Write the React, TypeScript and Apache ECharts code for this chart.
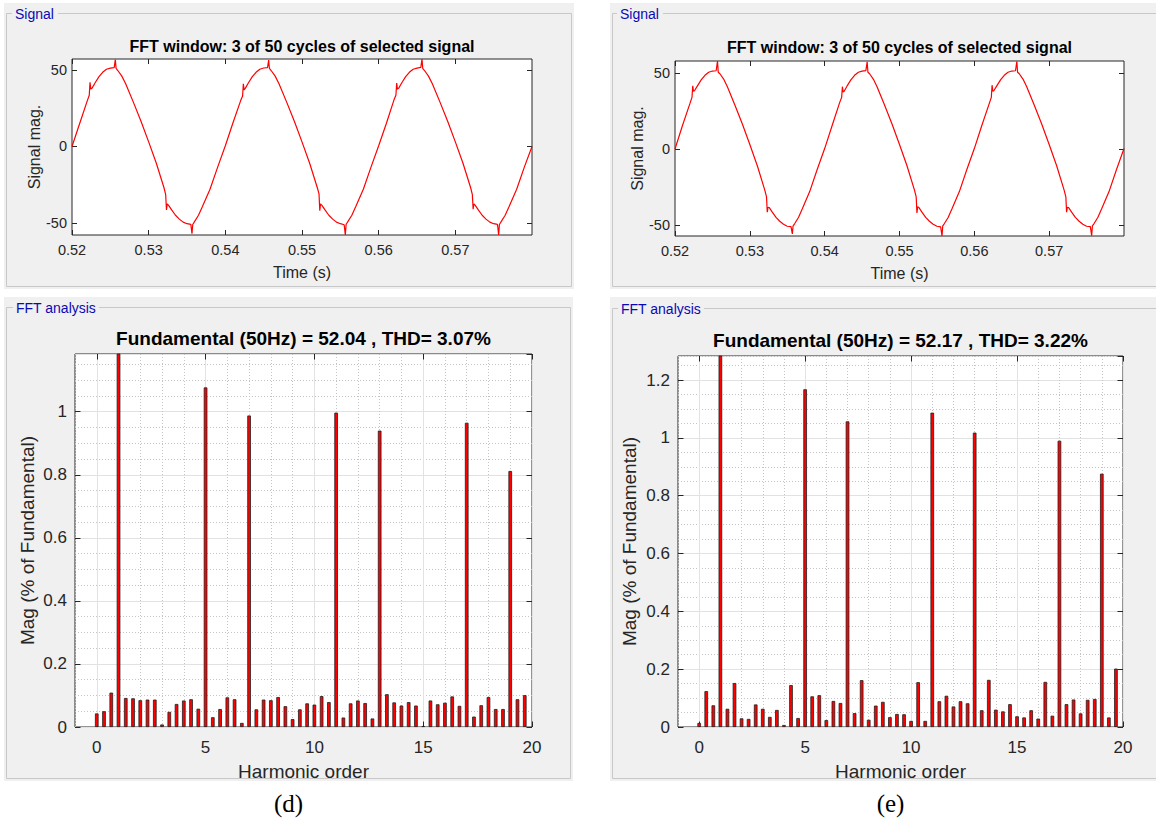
import React, { useEffect, useRef } from 'react';
import * as echarts from 'echarts';

// ---------------- DATA ----------------
const timeTicks = [0.52, 0.53, 0.54, 0.55, 0.56, 0.57];
const signalTicks = [-50, 0, 50];
const harmonicTicks = [0, 5, 10, 15, 20];

const titleSignal = 'FFT window: 3 of 50 cycles of selected signal';
const titleD = 'Fundamental (50Hz) = 52.04 , THD= 3.07%';
const titleE = 'Fundamental (50Hz) = 52.17 , THD= 3.22%';

const harmonicOrder = [
  0, 0.333, 0.667, 1, 1.333, 1.667, 2, 2.333, 2.667, 3, 3.333, 3.667,
  4, 4.333, 4.667, 5, 5.333, 5.667, 6, 6.333, 6.667, 7, 7.333, 7.667,
  8, 8.333, 8.667, 9, 9.333, 9.667, 10, 10.333, 10.667, 11, 11.333, 11.667,
  12, 12.333, 12.667, 13, 13.333, 13.667, 14, 14.333, 14.667, 15, 15.333, 15.667,
  16, 16.333, 16.667, 17, 17.333, 17.667, 18, 18.333, 18.667, 19, 19.333, 19.667,
];

const magD = [
  0.043, 0.050, 0.109, 100, 0.092, 0.091,
  0.085, 0.087, 0.087, 0.008, 0.048, 0.073,
  0.084, 0.088, 0.058, 1.077, 0.031, 0.057,
  0.094, 0.088, 0.013, 0.988, 0.056, 0.087,
  0.085, 0.095, 0.066, 0.025, 0.056, 0.075,
  0.071, 0.098, 0.079, 0.997, 0.030, 0.075,
  0.084, 0.076, 0.027, 0.940, 0.104, 0.078,
  0.068, 0.079, 0.068, 0.003, 0.084, 0.072,
  0.077, 0.097, 0.067, 0.965, 0.033, 0.069,
  0.095, 0.057, 0.057, 0.812, 0.088, 0.101,
];

const magE = [
  0.014, 0.124, 0.075, 100, 0.063, 0.152,
  0.030, 0.028, 0.078, 0.063, 0.035, 0.059,
  0.007, 0.145, 0.031, 1.168, 0.106, 0.110,
  0.024, 0.090, 0.083, 1.057, 0.048, 0.162,
  0.025, 0.074, 0.087, 0.034, 0.045, 0.044,
  0.021, 0.155, 0.021, 1.087, 0.089, 0.108,
  0.071, 0.089, 0.082, 1.018, 0.058, 0.163,
  0.060, 0.054, 0.079, 0.037, 0.033, 0.058,
  0.029, 0.156, 0.039, 0.990, 0.079, 0.095,
  0.047, 0.094, 0.097, 0.876, 0.033, 0.202,
];

const signalD = [
  [0.52, 0], [0.521, 15], [0.522, 30], [0.52225, 33.5], [0.52235, 42], [0.52245, 37.5], [0.5226, 38], [0.523, 41.5], [0.5235, 45.5], [0.524, 48.5], [0.5245, 50.5], [0.525, 51.2], [0.5255, 51.6], [0.52565, 56.8], [0.52575, 51], [0.526, 49.5], [0.5265, 46], [0.527, 41], [0.528, 29], [0.529, 16.5], [0.53, 3], [0.531, -11], [0.532, -27], [0.53222, -31.5], [0.53232, -41.5], [0.53242, -37.5], [0.5326, -38.5], [0.533, -41.5], [0.5335, -45], [0.534, -47.5], [0.5345, -49.5], [0.535, -50.5], [0.5355, -51], [0.53565, -57], [0.53575, -51], [0.536, -49], [0.5365, -45], [0.537, -39.5], [0.538, -28], [0.539, -13.5],
  [0.54, 0.5], [0.541, 15.5], [0.542, 30], [0.54225, 33], [0.54235, 41], [0.54245, 37], [0.5426, 38], [0.543, 41.5], [0.5435, 45.5], [0.544, 48.5], [0.5445, 50.5], [0.545, 51.3], [0.5455, 51.5], [0.54565, 56.5], [0.54575, 51], [0.546, 49.5], [0.5465, 46], [0.547, 41], [0.548, 29], [0.549, 16.5], [0.55, 3], [0.551, -11], [0.552, -27], [0.55222, -31], [0.55232, -42], [0.55242, -37.5], [0.5526, -38.5], [0.553, -41.5], [0.5535, -45], [0.554, -47.5], [0.5545, -49.5], [0.555, -50.5], [0.5555, -51.2], [0.55565, -57.9], [0.55575, -51], [0.556, -49], [0.5565, -45], [0.557, -39.5], [0.558, -28], [0.559, -13.5],
  [0.56, 0.5], [0.561, 15], [0.562, 30.5], [0.56225, 33.5], [0.56235, 41.5], [0.56245, 37.5], [0.5626, 38], [0.563, 41.5], [0.5635, 45.5], [0.564, 48.5], [0.5645, 50.5], [0.565, 51.2], [0.5655, 51.7], [0.56565, 57.2], [0.56575, 51], [0.566, 49.5], [0.5665, 46], [0.567, 41], [0.568, 29], [0.569, 16.5], [0.57, 3], [0.571, -11], [0.572, -27], [0.57222, -31.5], [0.57232, -41], [0.57242, -37.5], [0.5726, -38.5], [0.573, -41.5], [0.5735, -45], [0.574, -47.5], [0.5745, -49.5], [0.575, -50.5], [0.5755, -51], [0.57565, -57.9], [0.57575, -51], [0.576, -49], [0.5765, -45], [0.577, -39.5], [0.578, -28], [0.579, -13.5], [0.58, 0],
];

const signalE = [
  [0.52, 0], [0.521, 15.5], [0.522, 30], [0.52227, 34], [0.52237, 41.6], [0.52247, 38], [0.5226, 38.3], [0.523, 41.5], [0.5235, 45.5], [0.524, 48.5], [0.5245, 50.5], [0.525, 51.3], [0.5255, 51.5], [0.52568, 57.9], [0.52578, 50.5], [0.526, 49.5], [0.5265, 46], [0.527, 41], [0.528, 29], [0.529, 16.5], [0.53, 3], [0.531, -11], [0.532, -27], [0.53223, -31.5], [0.53233, -41.6], [0.53243, -38.3], [0.5326, -38.5], [0.533, -41.5], [0.5335, -45], [0.534, -47.5], [0.5345, -49.5], [0.535, -50.8], [0.5355, -51], [0.53568, -55.8], [0.53578, -50.5], [0.536, -49], [0.5365, -45], [0.537, -39.5], [0.538, -28], [0.539, -13.5],
  [0.54, 0.3], [0.541, 15.5], [0.542, 30.5], [0.54227, 34], [0.54237, 41], [0.54247, 37.5], [0.5426, 38], [0.543, 41.5], [0.5435, 45.5], [0.544, 48.5], [0.5445, 50.5], [0.545, 51.2], [0.5455, 51.6], [0.54568, 57.4], [0.54578, 50.5], [0.546, 49.5], [0.5465, 46], [0.547, 41], [0.548, 29], [0.549, 16.5], [0.55, 3], [0.551, -11], [0.552, -27], [0.55223, -31.5], [0.55233, -42], [0.55243, -38], [0.5526, -38.5], [0.553, -41.5], [0.5535, -45], [0.554, -47.5], [0.5545, -49.5], [0.555, -50.8], [0.5555, -51.2], [0.55568, -57.2], [0.55578, -50.5], [0.556, -49], [0.5565, -45], [0.557, -39.5], [0.558, -28], [0.559, -13.5],
  [0.56, 0.3], [0.561, 15.5], [0.562, 30], [0.56227, 34], [0.56237, 42], [0.56247, 38], [0.5626, 38.3], [0.563, 41.5], [0.5635, 45.5], [0.564, 48.5], [0.5645, 50.5], [0.565, 51.3], [0.5655, 51.5], [0.56568, 57.6], [0.56578, 50.5], [0.566, 49.5], [0.5665, 46], [0.567, 41], [0.568, 29], [0.569, 16.5], [0.57, 3], [0.571, -11], [0.572, -27], [0.57223, -31.5], [0.57233, -41.5], [0.57243, -38.3], [0.5726, -38.5], [0.573, -41.5], [0.5735, -45], [0.574, -47.5], [0.5745, -49.5], [0.575, -50.8], [0.5755, -51], [0.57568, -57], [0.57578, -50.5], [0.576, -49], [0.5765, -45], [0.577, -39.5], [0.578, -28], [0.579, -13.5], [0.58, 0.3],
];

// ---------------- STYLE ----------------
const AX = '#262626';
const FONT = '"Liberation Sans", Arial, Helvetica, sans-serif';
const SERIF = '"Liberation Serif", "Times New Roman", serif';
const MAJOR = '#E2E2E2';
const MINOR = '#C4C4C4';
const PANEL = '#F0F0F0';
const EDGE = '#C8C8C8';
const LABEL_BLUE = '#0A0AB4';
const T = 'transparent';

function txt(size: number) {
  return { color: AX, fontSize: size, fontFamily: FONT };
}

function buildOption() {
  const grid = [
    { left: 72, top: 59, width: 460, height: 176 },
    { left: 675, top: 61, width: 449, height: 175 },
    { left: 75, top: 354, width: 457, height: 373 },
    { left: 678, top: 356, width: 445, height: 371 },
  ].map((g) => ({ ...g, show: true, backgroundColor: '#FFFFFF', borderColor: AX, borderWidth: 1 }));

  const xAxis: any[] = [];
  const yAxis: any[] = [];
  const series: any[] = [];
  const tickStyle = { color: AX, width: 1 };
  const noLine = { show: false, onZero: false };

  function addSignal(g: number, data: number[][], yMin: number, yMax: number, yGap: number) {
    const xi = xAxis.length;
    xAxis.push({
      type: 'value', gridIndex: g, min: 0.52, max: 0.58, position: 'bottom',
      axisLine: noLine,
      axisTick: { show: true, inside: true, length: 5, customValues: timeTicks, lineStyle: tickStyle },
      axisLabel: { show: true, customValues: timeTicks, formatter: (v: number) => v.toFixed(2), margin: 7, ...txt(14.5) },
      splitLine: { show: false },
      name: 'Time (s)', nameLocation: 'middle', nameGap: 29, nameTextStyle: txt(16),
    });
    xAxis.push({
      type: 'value', gridIndex: g, min: 0.52, max: 0.58, position: 'top',
      axisLine: noLine,
      axisTick: { show: true, inside: true, length: 5, customValues: timeTicks, lineStyle: tickStyle },
      axisLabel: { show: false }, splitLine: { show: false },
    });
    const yi = yAxis.length;
    yAxis.push({
      type: 'value', gridIndex: g, min: yMin, max: yMax, position: 'left',
      axisLine: noLine,
      axisTick: { show: true, inside: true, length: 5, customValues: signalTicks, lineStyle: tickStyle },
      axisLabel: { show: true, customValues: signalTicks, margin: 5, ...txt(14.5) },
      splitLine: { show: false },
      name: 'Signal mag.', nameLocation: 'middle', nameGap: yGap, nameTextStyle: txt(16),
    });
    yAxis.push({
      type: 'value', gridIndex: g, min: yMin, max: yMax, position: 'right',
      axisLine: noLine,
      axisTick: { show: true, inside: true, length: 5, customValues: signalTicks, lineStyle: tickStyle },
      axisLabel: { show: false }, splitLine: { show: false },
    });
    series.push({
      type: 'line', xAxisIndex: xi, yAxisIndex: yi, data,
      symbol: 'none', showSymbol: false, clip: true, silent: true, z: 3,
      lineStyle: { color: '#FF0000', width: 1.2 },
    });
  }

  function addFFT(g: number, mag: number[], yMax: number, yGap: number) {
    const xi = xAxis.length;
    xAxis.push({
      type: 'value', gridIndex: g, min: -1, max: 20, position: 'bottom',
      axisLine: noLine,
      axisTick: { show: true, inside: true, length: 5.5, customValues: harmonicTicks, lineStyle: tickStyle },
      axisLabel: { show: true, customValues: harmonicTicks, margin: 12, ...txt(17) },
      splitLine: { show: false },
      name: 'Harmonic order', nameLocation: 'middle', nameGap: 35, nameTextStyle: txt(19),
    });
    xAxis.push({
      type: 'value', gridIndex: g, min: -1, max: 20, position: 'top',
      axisLine: noLine,
      axisTick: { show: true, inside: true, length: 5.5, customValues: harmonicTicks, lineStyle: tickStyle },
      axisLabel: { show: false }, splitLine: { show: false },
    });
    xAxis.push({
      type: 'value', gridIndex: g, min: -1, max: 20, interval: 1, position: 'bottom',
      axisLine: noLine, axisTick: { show: false }, axisLabel: { show: false },
      splitLine: { show: true, lineStyle: { color: [MINOR, T, MINOR, MINOR, MINOR], type: [1, 2], width: 1 } },
    });
    xAxis.push({
      type: 'value', gridIndex: g, min: -1, max: 20, interval: 1, position: 'bottom',
      axisLine: noLine, axisTick: { show: false }, axisLabel: { show: false },
      splitLine: { show: true, lineStyle: { color: [T, MAJOR, T, T, T], type: 'solid', width: 1 } },
    });
    const yi = yAxis.length;
    yAxis.push({
      type: 'value', gridIndex: g, min: 0, max: yMax, interval: 0.2, position: 'left',
      axisLine: noLine,
      axisTick: { show: true, inside: true, length: 5.5, lineStyle: tickStyle },
      axisLabel: { show: true, showMaxLabel: false, margin: 8, ...txt(17) },
      splitLine: { show: true, lineStyle: { color: MAJOR, width: 1 } },
      name: 'Mag (% of Fundamental)', nameLocation: 'middle', nameGap: yGap, nameTextStyle: txt(19),
    });
    yAxis.push({
      type: 'value', gridIndex: g, min: 0, max: yMax, interval: 0.2, position: 'right',
      axisLine: noLine,
      axisTick: { show: true, inside: true, length: 5.5, lineStyle: tickStyle },
      axisLabel: { show: false }, splitLine: { show: false },
    });
    yAxis.push({
      type: 'value', gridIndex: g, min: 0, max: yMax, interval: 0.05, position: 'left',
      axisLine: noLine, axisTick: { show: false }, axisLabel: { show: false },
      splitLine: { show: true, lineStyle: { color: [T, MINOR, MINOR, MINOR], type: [1, 2], width: 1 } },
    });
    series.push({
      type: 'bar', xAxisIndex: xi, yAxisIndex: yi,
      data: harmonicOrder.map((h, i) => [h, mag[i]]),
      barWidth: 3.6, clip: true, silent: true, z: 3,
      itemStyle: { color: '#FF0000', borderColor: '#202020', borderWidth: 0.8 },
    });
  }

  addSignal(0, signalD, -57.9, 57.2, 28);
  addSignal(1, signalE, -57.2, 57.9, 29);
  addFFT(2, magD, 1.183, 38);
  addFFT(3, magE, 1.283, 39);

  const panels = [
    { x: 4, y: 3, w: 570, h: 286, bx: 6.5, by: 13.5, bw: 565, bh: 273, label: 'Signal', lx: 15, ly: 14, lw: 40 },
    { x: 610, y: 3, w: 546, h: 286, bx: 612.5, by: 13.5, bw: 560, bh: 273, label: 'Signal', lx: 620, ly: 14, lw: 40 },
    { x: 4, y: 297, w: 569, h: 484, bx: 6.5, by: 307.5, bw: 564, bh: 471, label: 'FFT analysis', lx: 16, ly: 308, lw: 80 },
    { x: 610, y: 297, w: 546, h: 484, bx: 612.5, by: 308.5, bw: 560, bh: 470, label: 'FFT analysis', lx: 621, ly: 309, lw: 80 },
  ];
  const elements: any[] = [];
  panels.forEach((p) => {
    elements.push({ type: 'rect', z: -20, silent: true, shape: { x: p.x, y: p.y, width: p.w, height: p.h }, style: { fill: PANEL } });
    elements.push({ type: 'rect', z: -19, silent: true, shape: { x: p.bx, y: p.by, width: p.bw, height: p.bh }, style: { fill: 'none', stroke: EDGE, lineWidth: 1 } });
    elements.push({ type: 'rect', z: -18, silent: true, shape: { x: p.lx - 3, y: p.ly - 8, width: p.lw + 6, height: 16 }, style: { fill: PANEL } });
    elements.push({
      type: 'text', z: 10, silent: true, x: p.lx, y: p.ly,
      style: { text: p.label, fill: LABEL_BLUE, fontSize: 14, fontFamily: FONT, textAlign: 'left', align: 'left', textVerticalAlign: 'middle', verticalAlign: 'middle' },
    });
  });
  const titles = [
    { text: titleSignal, x: 302, y: 46, size: 16 },
    { text: titleSignal, x: 899.5, y: 47.5, size: 16 },
    { text: titleD, x: 303.5, y: 338.5, size: 19 },
    { text: titleE, x: 900.5, y: 340, size: 19 },
  ];
  titles.forEach((t) => {
    elements.push({
      type: 'text', z: 10, silent: true, x: t.x, y: t.y,
      style: { text: t.text, fill: '#000000', fontSize: t.size, fontWeight: 'bold', fontFamily: FONT, textAlign: 'center', align: 'center', textVerticalAlign: 'middle', verticalAlign: 'middle' },
    });
  });
  [{ text: '(d)', x: 288.5 }, { text: '(e)', x: 890.5 }].forEach((c) => {
    elements.push({
      type: 'text', z: 10, silent: true, x: c.x, y: 803,
      style: { text: c.text, fill: '#000000', fontSize: 25, fontFamily: SERIF, textAlign: 'center', align: 'center', textVerticalAlign: 'middle', verticalAlign: 'middle' },
    });
  });

  return {
    animation: false,
    backgroundColor: '#FFFFFF',
    grid, xAxis, yAxis, series,
    graphic: { elements },
  };
}

export default function App() {
  const ref = useRef<HTMLDivElement>(null);
  useEffect(() => {
    if (!ref.current) return;
    const chart = echarts.init(ref.current, null, { renderer: 'svg', width: 1156, height: 820 });
    chart.setOption(buildOption() as any);
    return () => chart.dispose();
  }, []);
  return <div ref={ref} style={{ position: 'absolute', left: 0, top: 0, width: 1156, height: 820 }} />;
}
